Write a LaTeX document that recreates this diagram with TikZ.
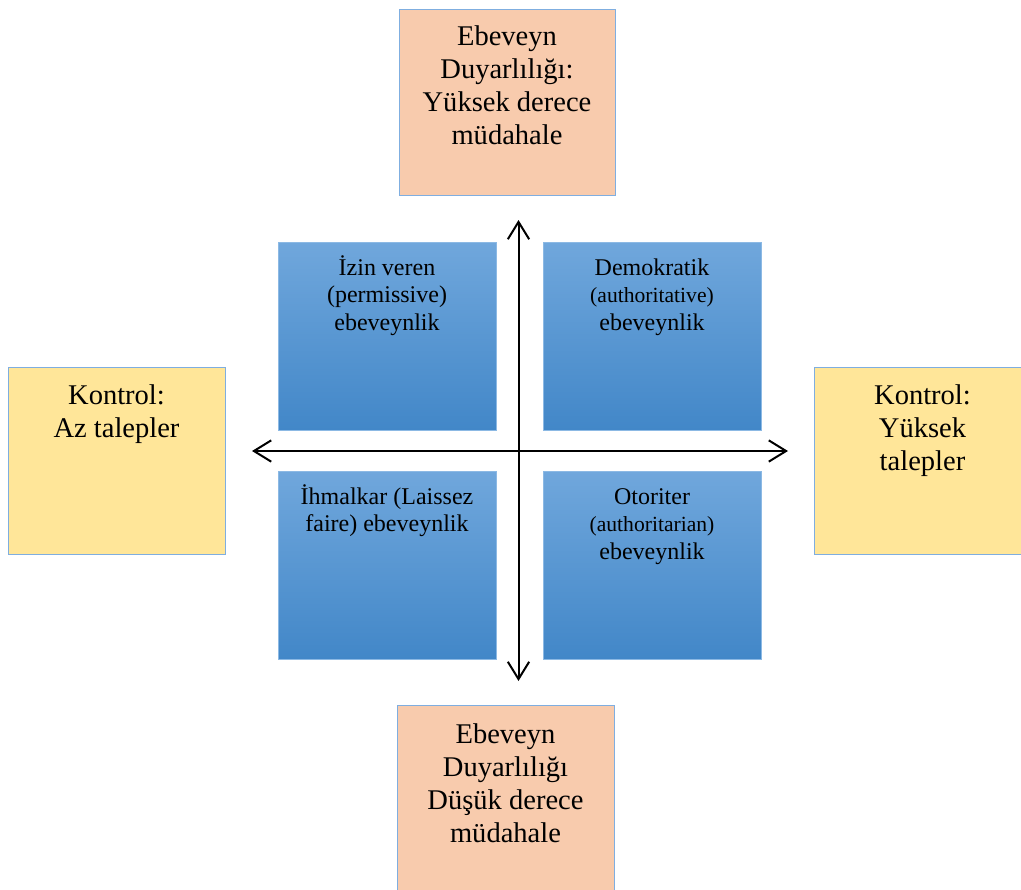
\documentclass[tikz,border=0pt]{standalone}
\usepackage{fontspec}
\setmainfont{Liberation Serif}
\usetikzlibrary{arrows.meta}
\definecolor{salmon}{HTML}{F8CBAD}
\definecolor{sand}{HTML}{FFE699}
\definecolor{edge}{HTML}{7FAEE0}
\definecolor{bluetop}{RGB}{112,167,220}
\definecolor{bluebot}{RGB}{66,135,200}
\definecolor{blueedge}{RGB}{140,185,228}
\begin{document}
\begin{tikzpicture}[x=0.75pt,y=-0.75pt,
  outerbox/.style={draw=edge, line width=0.75pt, inner sep=0pt, outer sep=0pt, minimum width=162.75pt},
  quad/.style={draw=blueedge, line width=0.5pt, top color=bluetop, bottom color=bluebot, inner sep=0pt, outer sep=0pt, minimum width=163.5pt, minimum height=141pt},
  bigtxt/.style={align=center, inner sep=0pt, anchor=base, font=\fontsize{21.4}{24.75}\selectfont},
  smalltxt/.style={align=center, inner sep=0pt, anchor=base, font=\fontsize{18}{20.6}\selectfont},
  axis/.style={line width=1.5pt, {Straight Barb[length=13pt,width=16pt]}-{Straight Barb[length=13pt,width=16pt]}}]
\useasboundingbox (0,0) rectangle (1021,889);
% outer boxes
\node[outerbox, fill=salmon, minimum width=162pt, minimum height=139.5pt] (top) at (507,102) {};
\node[outerbox, fill=salmon, minimum height=146.25pt] (bottom) at (505.5,802.5) {};
\node[outerbox, fill=sand, minimum height=140.25pt] (left) at (116.5,460.5) {};
\node[outerbox, fill=sand, minimum height=140.25pt] (right) at (922.5,460.5) {};
% quadrants
\node[quad] (tl) at (387,336) {};
\node[quad] (tr) at (652,336) {};
\node[quad] (bl) at (387,565) {};
\node[quad] (br) at (652,565) {};
% texts (anchor = baseline of last line)
\node[bigtxt] (toptxt) at (507,144) {Ebeveyn\\Duyarlılığı:\\Yüksek derece\\müdahale};
\node[bigtxt] (bottomtxt) at (505.5,842) {Ebeveyn\\Duyarlılığı\\Düşük derece\\müdahale};
\node[bigtxt] (lefttxt) at (116.5,437) {Kontrol:\\Az talepler};
\node[bigtxt] (righttxt) at (922.5,470) {Kontrol:\\Yüksek\\talepler};
\node[smalltxt] (tltxt) at (387,330) {İzin veren\\(permissive)\\ebeveynlik};
\node[smalltxt] (trtxt) at (652,330) {Demokratik\\{\fontsize{16.2}{20.6}\selectfont (authoritative)}\\ebeveynlik};
\node[smalltxt] (bltxt) at (387,531.5) {İhmalkar (Laissez\\faire) ebeveynlik};
\node[smalltxt] (brtxt) at (652,559) {Otoriter\\{\fontsize{16.2}{20.6}\selectfont (authoritarian)}\\ebeveynlik};
% axes
\coordinate (vt) at (518.5,220);
\coordinate (vb) at (518.5,681);
\coordinate (hl) at (252,451);
\coordinate (hr) at (788,451);
\draw[axis] (vt) -- (vb);
\draw[axis] (hl) -- (hr);
\end{tikzpicture}
\end{document}
